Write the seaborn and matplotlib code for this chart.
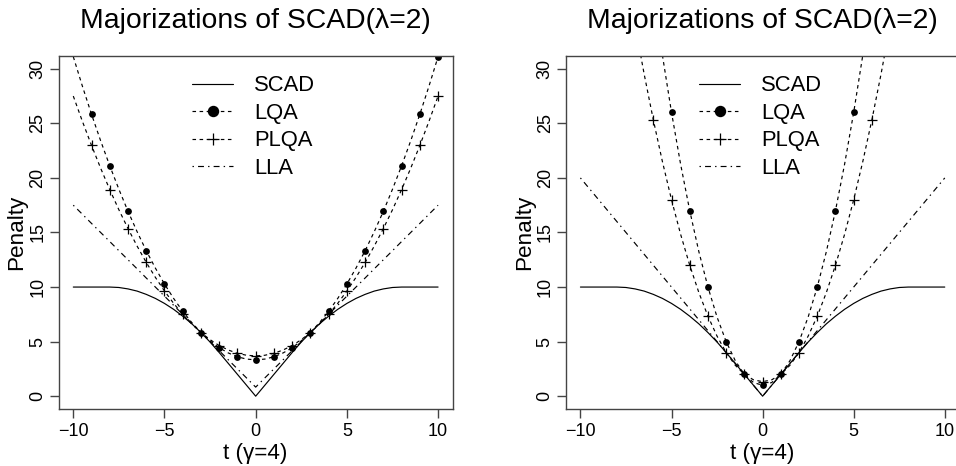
import numpy as np
import pandas as pd
import matplotlib
matplotlib.use("Agg")
import matplotlib.pyplot as plt
import seaborn as sns
from matplotlib.lines import Line2D

# ---------------- data ----------------
t_grid = np.arange(-10, 10.01, 0.5)          # x positions of the curve samples
series_names = ["SCAD", "LQA", "PLQA", "LLA"]
x_ticks = [-10, -5, 0, 5, 10]
y_ticks = [0, 5, 10, 15, 20, 25, 30]
title_text = "Majorizations of SCAD(\u03bb=2)"
x_label = "t (\u03b3=4)"
y_label = "Penalty"

scad = [10, 10, 10, 10, 10, 9.96, 9.83, 9.63, 9.33, 8.96, 8.5, 7.96, 7.33, 6.63, 5.83,
        4.96, 4, 3, 2, 1, 0, 1, 2, 3, 4, 4.96, 5.83, 6.63, 7.33, 7.96, 8.5, 8.96, 9.33,
        9.63, 9.83, 9.96, 10, 10, 10, 10, 10]

# left panel (majorization at |t| = 3)
left_lqa = [31.11, 28.40, 25.83, 23.40, 21.11, 18.96, 16.94, 15.07, 13.33, 11.74, 10.28,
            8.96, 7.78, 6.74, 5.83, 5.07, 4.44, 3.96, 3.61, 3.40, 3.33, 3.40, 3.61, 3.96,
            4.44, 5.07, 5.83, 6.74, 7.78, 8.96, 10.28, 11.74, 13.33, 15.07, 16.94, 18.96,
            21.11, 23.40, 25.83, 28.40, 31.11]
left_plqa = [27.50, 25.18, 22.98, 20.89, 18.93, 17.08, 15.36, 13.75, 12.26, 10.89, 9.64,
             8.51, 7.50, 6.61, 5.83, 5.18, 4.64, 4.23, 3.93, 3.75, 3.69, 3.75, 3.93, 4.23,
             4.64, 5.18, 5.83, 6.61, 7.50, 8.51, 9.64, 10.89, 12.26, 13.75, 15.36, 17.08,
             18.93, 20.89, 22.98, 25.18, 27.50]
left_lla = [17.5, 16.67, 15.83, 15.0, 14.17, 13.33, 12.5, 11.67, 10.83, 10.0, 9.17, 8.33,
            7.5, 6.67, 5.83, 5.0, 4.17, 3.33, 2.5, 1.67, 0.83, 1.67, 2.5, 3.33, 4.17, 5.0,
            5.83, 6.67, 7.5, 8.33, 9.17, 10.0, 10.83, 11.67, 12.5, 13.33, 14.17, 15.0,
            15.83, 16.67, 17.5]

# right panel (majorization at |t| = 1)
right_lqa = [101, 91.25, 82, 73.25, 65, 57.25, 50, 43.25, 37, 31.25, 26, 21.25, 17, 13.25,
             10, 7.25, 5, 3.25, 2, 1.25, 1, 1.25, 2, 3.25, 5, 7.25, 10, 13.25, 17, 21.25,
             26, 31.25, 37, 43.25, 50, 57.25, 65, 73.25, 82, 91.25, 101]
right_plqa = [68.0, 61.5, 55.33, 49.5, 44.0, 38.83, 34.0, 29.5, 25.33, 21.5, 18.0, 14.83,
              12.0, 9.5, 7.33, 5.5, 4.0, 2.83, 2.0, 1.5, 1.33, 1.5, 2.0, 2.83, 4.0, 5.5,
              7.33, 9.5, 12.0, 14.83, 18.0, 21.5, 25.33, 29.5, 34.0, 38.83, 44.0, 49.5,
              55.33, 61.5, 68.0]
right_lla = [20, 19, 18, 17, 16, 15, 14, 13, 12, 11, 10, 9, 8, 7, 6, 5, 4, 3, 2, 1, 0,
             1, 2, 3, 4, 5, 6, 7, 8, 9, 10, 11, 12, 13, 14, 15, 16, 17, 18, 19, 20]

panels = [
    pd.DataFrame({"t": t_grid, "SCAD": scad, "LQA": left_lqa, "PLQA": left_plqa, "LLA": left_lla}),
    pd.DataFrame({"t": t_grid, "SCAD": scad, "LQA": right_lqa, "PLQA": right_plqa, "LLA": right_lla}),
]

# ---------------- style ----------------
sns.set_style("white")
plt.rcParams["font.family"] = ["Liberation Sans", "DejaVu Sans"]
plt.rcParams["text.color"] = "black"
plt.rcParams["axes.labelcolor"] = "black"
FRAME = "#444444"
LW = 0.85
DASH = (0, (3, 3))
DOTDASH = (0, (1.2, 3.5, 5, 3.5))

fig = plt.figure(figsize=(9.56, 4.66), dpi=100)
positions = [[0.0614, 0.1217, 0.4121, 0.7588], [0.5919, 0.1217, 0.4116, 0.7588]]

for pos, df in zip(positions, panels):
    ax = fig.add_axes(pos)
    sns.lineplot(data=df, x="t", y="SCAD", ax=ax, color="black", lw=LW, linestyle="-")
    sns.lineplot(data=df, x="t", y="LQA", ax=ax, color="black", lw=LW, linestyle=DASH)
    sns.lineplot(data=df, x="t", y="PLQA", ax=ax, color="black", lw=LW, linestyle=DASH)
    sns.lineplot(data=df, x="t", y="LLA", ax=ax, color="black", lw=LW, linestyle=DOTDASH)

    marks = df[(df["t"] % 1 == 0) & (df["t"] >= -9)]
    sns.scatterplot(data=marks, x="t", y="LQA", ax=ax, marker="o", s=24,
                    color="black", edgecolor="black", linewidth=0)
    sns.scatterplot(data=marks, x="t", y="PLQA", ax=ax, marker="+", s=45,
                    color="black", linewidth=0.9)

    ax.set_xlim(-10.8, 10.8)
    ax.set_ylim(-1.2, 31.2)
    ax.set_xticks(x_ticks)
    ax.set_yticks(y_ticks)
    ax.tick_params(axis="both", direction="out", length=6.3, width=1.0, color=FRAME,
                   labelsize=13, bottom=True, left=True, labelcolor="black")
    ax.tick_params(axis="x", pad=3.5)
    ax.tick_params(axis="y", pad=2.5)
    plt.setp(ax.get_yticklabels(), rotation=90, va="center")
    for sp in ax.spines.values():
        sp.set_color(FRAME)
        sp.set_linewidth(1.0)

    ax.set_title(title_text, fontsize=20.4, y=1.078, pad=0, color="black")
    ax.set_xlabel(x_label, fontsize=16.2)
    ax.xaxis.set_label_coords(0.5, -0.1406)
    ax.xaxis.label.set_va("baseline")
    ax.set_ylabel(y_label, fontsize=16.2)
    ax.yaxis.set_label_coords(-0.106, 0.5)
    ax.yaxis.label.set_va("center")

    handles = [
        Line2D([], [], color="black", lw=LW, ls="-"),
        Line2D([], [], color="black", lw=LW, ls=DASH, marker="o", markersize=7.2),
        Line2D([], [], color="black", lw=LW, ls=DASH, marker="+", markersize=9,
               markeredgewidth=0.9),
        Line2D([], [], color="black", lw=LW, ls=DOTDASH),
    ]
    leg = ax.legend(handles, series_names, loc="upper left", bbox_to_anchor=(0.3376, 0.9445),
                    frameon=False, fontsize=15.8, handlelength=1.9, handletextpad=0.95,
                    labelspacing=0.3, borderpad=0, borderaxespad=0)
    for txt in leg.get_texts():
        txt.set_color("black")

fig.savefig("out.png", dpi=100, facecolor="white")
